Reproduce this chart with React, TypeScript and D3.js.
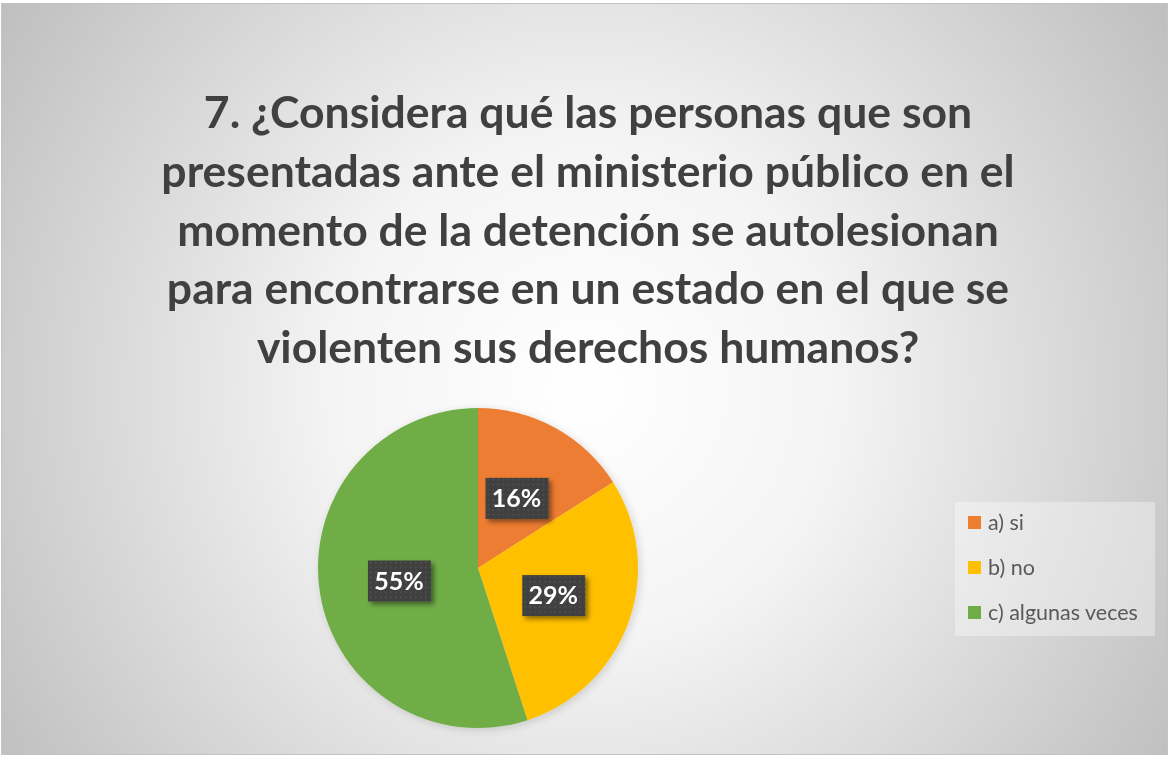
import React from "react";
import * as d3 from "d3";

const categories = ["a) si", "b) no", "c) algunas veces"];
const values = [16, 29, 55];
const colors = ["#ED7D31", "#FFC000", "#70AD47"];
const titleLines = [
  "7. ¿Considera qué las personas que son",
  "presentadas ante el ministerio público en el",
  "momento de la detención se autolesionan",
  "para encontrarse en un estado en el que se",
  "violenten sus derechos humanos?",
];

const W = 1169;
const H = 757;
const cx = 478;
const cy = 568;
const R = 160;

export default function App() {
  const pie = d3.pie<number>().sort(null).value((d) => d);
  const arcs = pie(values);
  const arc = d3.arc<d3.PieArcDatum<number>>().innerRadius(0).outerRadius(R);
  const total = d3.sum(values);
  const font = "Lato, 'Open Sans', sans-serif";
  const legendY = d3.scalePoint<string>().domain(categories).range([523, 613]);

  return (
    <div style={{ position: "fixed", left: 0, top: 0 }}>
      <svg width={W} height={H} style={{ display: "block" }}>
        <defs>
          <radialGradient id="bg" gradientUnits="userSpaceOnUse" cx={585} cy={390} r={720}>
            <stop offset="0" stopColor="#ffffff" />
            <stop offset="0.35" stopColor="#f4f4f4" />
            <stop offset="1" stopColor="#bcbcbc" />
          </radialGradient>
          <pattern id="dots" width="5" height="5" patternUnits="userSpaceOnUse">
            <rect width="5" height="5" fill="#404040" />
            <rect x="1" y="1" width="1.5" height="1.5" fill="#555555" />
          </pattern>
          <filter id="shadow" x="-30%" y="-30%" width="170%" height="170%">
            <feGaussianBlur in="SourceAlpha" stdDeviation="2.5" />
            <feOffset dx="3" dy="3" result="b" />
            <feComponentTransfer>
              <feFuncA type="linear" slope="0.45" />
            </feComponentTransfer>
            <feMerge>
              <feMergeNode />
              <feMergeNode in="SourceGraphic" />
            </feMerge>
          </filter>
          <filter id="pieShadow" x="-20%" y="-20%" width="140%" height="140%">
            <feGaussianBlur in="SourceAlpha" stdDeviation="4" />
            <feOffset dx="2" dy="2" result="b" />
            <feComponentTransfer>
              <feFuncA type="linear" slope="0.15" />
            </feComponentTransfer>
            <feMerge>
              <feMergeNode />
              <feMergeNode in="SourceGraphic" />
            </feMerge>
          </filter>
        </defs>
        <rect x={1.5} y={3.5} width={W - 3} height={H - 6} fill="url(#bg)" stroke="#c4c4c4" strokeWidth={1} />

        <g fontFamily={font} fontWeight={700} fontSize={44.5} fill="#404040" textAnchor="middle">
          {titleLines.map((t, i) => (
            <text key={i} x={588} y={128 + i * 58.75}>
              {t}
            </text>
          ))}
        </g>

        <g transform={`translate(${cx},${cy})`} filter="url(#pieShadow)">
          {arcs.map((a, i) => (
            <path key={i} d={arc(a) || ""} fill={colors[i]} />
          ))}
        </g>

        <g transform={`translate(${cx},${cy})`}>
          {arcs.map((a, i) => {
            const [x, y] = arc.centroid(a);
            const label = `${Math.round((a.data / total) * 100)}%`;
            return (
              <g key={i} transform={`translate(${x},${y})`}>
                <rect x={-31} y={-20} width={63} height={41} fill="url(#dots)" filter="url(#shadow)" />
                <text
                  x={0}
                  y={9}
                  textAnchor="middle"
                  fontFamily={font}
                  fontWeight={700}
                  fontSize={25}
                  fill="#ffffff"
                >
                  {label}
                </text>
              </g>
            );
          })}
        </g>

        <rect x={955} y={502} width={200} height={134} fill="#ffffff" fillOpacity={0.35} />
        {categories.map((c, i) => {
          const y = legendY(c) as number;
          return (
            <g key={c}>
              <rect x={968} y={y - 7} width={13} height={13} fill={colors[i]} />
              <text x={988} y={y + 7} fontFamily={font} fontSize={21.5} fill="#595959">
                {c}
              </text>
            </g>
          );
        })}
      </svg>
    </div>
  );
}
